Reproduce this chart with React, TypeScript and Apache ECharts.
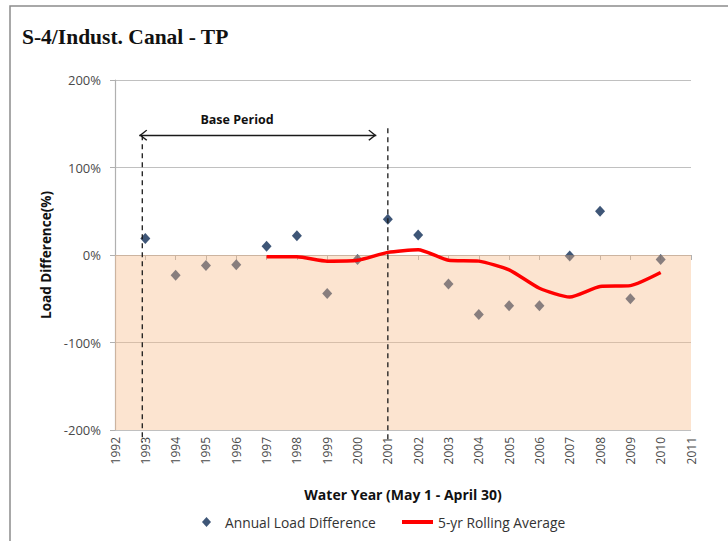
import React, { useEffect, useRef } from "react";
import * as echarts from "echarts";

const years = [1993, 1994, 1995, 1996, 1997, 1998, 1999, 2000, 2001, 2002, 2003, 2004, 2005, 2006, 2007, 2008, 2009, 2010];
const annualDiff = [19, -23, -12, -11, 10, 22, -44, -5, 41, 23, -33, -68, -58, -58, -1, 50, -50, -5];
const rollYears = [1997, 1998, 1999, 2000, 2001, 2002, 2003, 2004, 2005, 2006, 2007, 2008, 2009, 2010];
const rollAvg = [-2, -2, -7, -6, 3, 6, -6, -7, -17, -38, -48, -36, -35, -20];
const yTicks = [-200, -100, 0, 100, 200];
const basePeriod = [1992.8, 2000.62];
const dashedYears = [1992.9, 2001];
const dashedTops = [137, 145];
const dashedBottom = -214;

const FONT = "'Open Sans', 'Noto Sans', sans-serif";
const chevron = "path://M6,0 M6,8 L12,15 L11,16 L6,10.2 L1,16 L0,15 Z";

export default function App() {
  const ref = useRef<HTMLDivElement>(null);
  useEffect(() => {
    document.body.style.margin = "0";
    const chart = echarts.init(ref.current!, null, { renderer: "svg" });
    const dashedSeries = dashedYears.map((yr, i) => ({
      name: "dash" + i,
      type: "line",
      data: [
        [yr, dashedTops[i]],
        [yr, dashedBottom],
      ],
      showSymbol: false,
      symbol: "none",
      clip: false,
      silent: true,
      z: 30,
      lineStyle: { color: "#1a1a1a", width: 1.3, type: [5, 4] },
    }));
    chart.setOption({
      animation: false,
      backgroundColor: "#ffffff",
      graphic: [
        {
          type: "rect",
          shape: { x: 10, y: 6, width: 760, height: 560 },
          style: { fill: "none", stroke: "#8c8c8c", lineWidth: 1.5 },
          silent: true,
        },
        {
          type: "text",
          x: 22,
          y: 37,
          style: {
            text: "S-4/Indust. Canal - TP",
            font: "bold 21.5px 'Liberation Serif', 'Times New Roman', serif",
            fill: "#111111",
            textVerticalAlign: "middle",
          },
        },
        {
          type: "text",
          x: 237,
          y: 119,
          z: 10,
          style: {
            text: "Base Period",
            font: `bold 12.5px ${FONT}`,
            fill: "#111111",
            textAlign: "center",
            textVerticalAlign: "middle",
          },
        },
      ],
      grid: { left: 115, right: 37, top: 80, bottom: 111 },
      xAxis: {
        type: "value",
        min: 1992,
        max: 2011,
        interval: 1,
        name: "Water Year (May 1 - April 30)",
        nameLocation: "middle",
        nameGap: 57,
        nameTextStyle: { fontFamily: FONT, fontWeight: "bold", fontSize: 14, color: "#111" },
        axisLine: { lineStyle: { color: "#b0b0b0", width: 1.2 } },
        axisTick: { show: true, length: 5, lineStyle: { color: "#b0b0b0" } },
        axisLabel: {
          rotate: 90,
          fontFamily: FONT,
          fontSize: 12,
          color: "#4a4a4a",
          margin: 7,
          formatter: (v: number) => String(v),
        },
        splitLine: { show: false },
      },
      yAxis: {
        type: "value",
        min: -200,
        max: 200,
        interval: 100,
        name: "Load Difference(%)",
        nameLocation: "middle",
        nameGap: 57,
        nameTextStyle: { fontFamily: FONT, fontWeight: "bold", fontSize: 13.5, color: "#111" },
        axisLine: { show: true, lineStyle: { color: "#b0b0b0", width: 1.2 } },
        axisTick: { show: true, length: 5, lineStyle: { color: "#b0b0b0" } },
        axisLabel: {
          fontFamily: FONT,
          fontSize: 13,
          color: "#4a4a4a",
          margin: 14,
          formatter: (v: number) => (yTicks.includes(v) ? `${v}%` : ""),
        },
        splitLine: { lineStyle: { color: "#c0c0c0", width: 1 } },
      },
      legend: [
        {
          data: [{ name: "Annual Load Difference", icon: "diamond" }],
          left: 202,
          top: 515,
          padding: 0,
          itemWidth: 9,
          itemHeight: 10,
          textStyle: { fontFamily: FONT, fontSize: 13.8, color: "#333", padding: [0, 0, 0, 9] },
        },
        {
          data: [{ name: "5-yr Rolling Average", icon: "rect" }],
          left: 402,
          top: 515,
          padding: 0,
          itemWidth: 31,
          itemHeight: 4,
          textStyle: { fontFamily: FONT, fontSize: 13.8, color: "#333" },
        },
      ],
      series: [
        {
          name: "Annual Load Difference",
          type: "scatter",
          symbol: "diamond",
          symbolSize: [10, 11],
          itemStyle: { color: "#0E2C55" },
          data: years.map((y, i) => [y, annualDiff[i]]),
          z: 2,
        },
        {
          name: "overlay",
          type: "line",
          data: [],
          z: 10,
          silent: true,
          markArea: {
            silent: true,
            z: 10,
            itemStyle: { color: "rgba(247,187,137,0.4)" },
            data: [[{ coord: [1992, 0] }, { coord: [2011, -200] }]],
          },
        },
        {
          name: "5-yr Rolling Average",
          type: "line",
          showSymbol: false,
          smooth: 0.2,
          lineStyle: { color: "#FF0000", width: 3.5 },
          itemStyle: { color: "#FF0000" },
          data: rollYears.map((y, i) => [y, rollAvg[i]]),
          z: 20,
        },
        ...dashedSeries,
        {
          name: "annotations",
          type: "line",
          data: [],
          z: 30,
          clip: false,
          silent: true,
          markLine: {
            silent: true,
            animation: false,
            z: 30,
            label: { show: false },
            symbol: "none",
            data: [
              [
                {
                  coord: [basePeriod[0], 137],
                  symbol: chevron,
                  symbolSize: [11, 16],
                  lineStyle: { color: "#1a1a1a", width: 1.3, type: "solid" },
                },
                { coord: [basePeriod[1], 137], symbol: chevron, symbolSize: [11, 16] },
              ],
            ],
          },
        },
      ],
    });
    return () => chart.dispose();
  }, []);
  return <div ref={ref} style={{ width: 728, height: 541 }} />;
}
